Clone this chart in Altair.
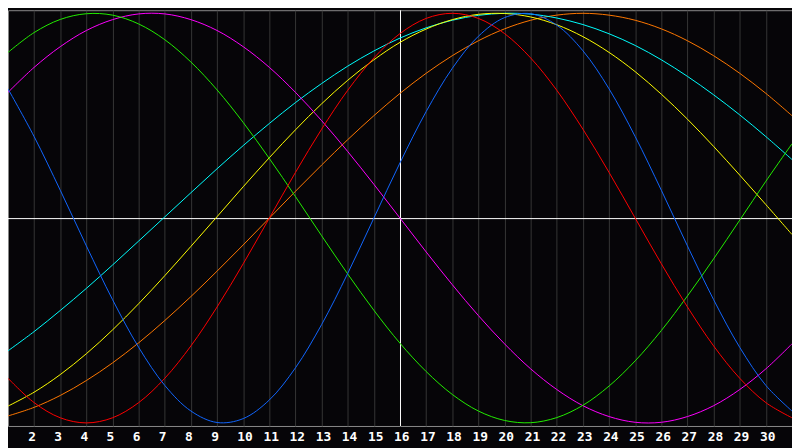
import altair as alt
import pandas as pd

# Day of month (x) and cycle values in percent (-100..100)
days = list(range(1, 32))

physical = [63.1, 39.8, 13.6, -13.6, -39.8, -63.1, -81.7, -94.2, -99.8, -97.9,
            -88.8, -73.1, -52.0, -27.0, 0.0, 27.0, 52.0, 73.1, 88.8, 97.9,
            99.8, 94.2, 81.7, 63.1, 39.8, 13.6, -13.6, -39.8, -63.1, -81.7, -94.2]
emotional = [-78.2, -90.1, -97.5, -100.0, -97.5, -90.1, -78.2, -62.4, -43.4, -22.3,
             0.0, 22.3, 43.4, 62.4, 78.2, 90.1, 97.5, 100.0, 97.5, 90.1,
             78.2, 62.4, 43.4, 22.3, 0.0, -22.3, -43.4, -62.4, -78.2, -90.1, -97.5]
intellectual = [80.9, 90.6, 97.0, 99.8, 99.1, 94.8, 87.1, 76.2, 62.6, 46.7,
                29.1, 10.5, -8.6, -27.3, -45.0, -61.1, -74.9, -86.1, -94.2, -98.8,
                -99.9, -97.4, -91.4, -82.0, -69.7, -54.9, -38.0, -19.9, -1.0, 18.0, 36.3]
intuitive = [61.4, 73.6, 83.7, 91.6, 96.9, 99.7, 99.7, 96.9, 91.6, 83.7,
             73.6, 61.4, 47.6, 32.5, 16.5, 0.0, -16.5, -32.5, -47.6, -61.4,
             -73.6, -83.7, -91.6, -96.9, -99.7, -99.7, -96.9, -91.6, -83.7, -73.6, -61.4]
aesthetic = [-91.8, -85.0, -76.4, -66.2, -54.6, -41.8, -28.1, -13.8, 0.7, 15.3,
             29.5, 43.1, 55.8, 67.3, 77.3, 85.8, 92.3, 96.9, 99.5, 99.9,
             98.2, 94.4, 88.6, 80.9, 71.5, 60.5, 48.3, 35.0, 21.0, 6.6, -8.0]
awareness = [-96.6, -92.4, -86.6, -79.3, -70.7, -60.9, -50.0, -38.3, -25.9, -13.1,
             0.0, 13.1, 25.9, 38.3, 50.0, 60.9, 70.7, 79.3, 86.6, 92.4,
             96.6, 99.1, 100.0, 99.1, 96.6, 92.4, 86.6, 79.3, 70.7, 60.9, 50.0]
spiritual = [-64.8, -55.4, -45.1, -34.3, -22.9, -11.2, 0.6, 12.4, 24.1, 35.4,
             46.2, 56.4, 65.7, 74.2, 81.6, 87.9, 92.9, 96.6, 99.0, 100.0,
             99.6, 97.7, 94.5, 90.0, 84.3, 77.3, 69.2, 60.2, 50.4, 39.8, 28.6]

cycle_names = ["Awareness", "Spiritual", "Aesthetic", "Intuitive",
               "Intellectual", "Emotional", "Physical"]
cycle_values = [awareness, spiritual, aesthetic, intuitive,
                intellectual, emotional, physical]
cycle_colors = ["#ff7700", "#00ffff", "#ffff00", "#ff00ff",
                "#22ee00", "#ff0000", "#1166ff"]

tick_days = list(range(2, 31))
today = [16]
zero_level = [0]

rows = []
for name, vals in zip(cycle_names, cycle_values):
    for d, v in zip(days, vals):
        rows.append({"day": d, "value": v, "cycle": name})
df = pd.DataFrame(rows)

x_scale = alt.Scale(domain=[1, 31], nice=False, zero=False)
y_scale = alt.Scale(domain=[-101.5, 101.5], nice=False, zero=False)

grid_axis = alt.Axis(
    values=tick_days,
    grid=True,
    gridColor="#363636",
    gridWidth=1,
    domain=False,
    ticks=False,
    labels=True,
    labelColor="#ffffff",
    labelFont="DejaVu Sans Mono",
    labelFontWeight="bold",
    labelFontSize=13,
    labelAlign="left",
    labelOffset=-6.5,
    labelPadding=5,
    labelOverlap=False,
    title=None,
)

lines = alt.Chart(df).mark_line(strokeWidth=1, interpolate="catmull-rom").encode(
    x=alt.X("day:Q", scale=x_scale, axis=grid_axis),
    y=alt.Y("value:Q", scale=y_scale, axis=None),
    color=alt.Color("cycle:N",
                    scale=alt.Scale(domain=cycle_names, range=cycle_colors),
                    legend=None),
    order=alt.Order("day:Q"),
)

hline = alt.Chart(pd.DataFrame({"value": zero_level})).mark_rule(
    color="#ffffff", strokeWidth=1, yOffset=0.5
).encode(y=alt.Y("value:Q", scale=y_scale, axis=None))

vline = alt.Chart(pd.DataFrame({"day": today})).mark_rule(
    color="#ffffff", strokeWidth=1, xOffset=0.5
).encode(x=alt.X("day:Q", scale=x_scale, axis=grid_axis))

chart = alt.layer(hline, vline, lines).properties(
    width=792,
    height=420,
    autosize=alt.AutoSizeParams(type="none"),
    padding={"left": 0, "top": 0, "right": 0, "bottom": 20},
    background="#060508",
).configure_view(
    fill="#060508",
    stroke="#8a8a8a",
    strokeWidth=1,
)

chart.save("out.html", embed_options={"renderer": "svg", "actions": False})
